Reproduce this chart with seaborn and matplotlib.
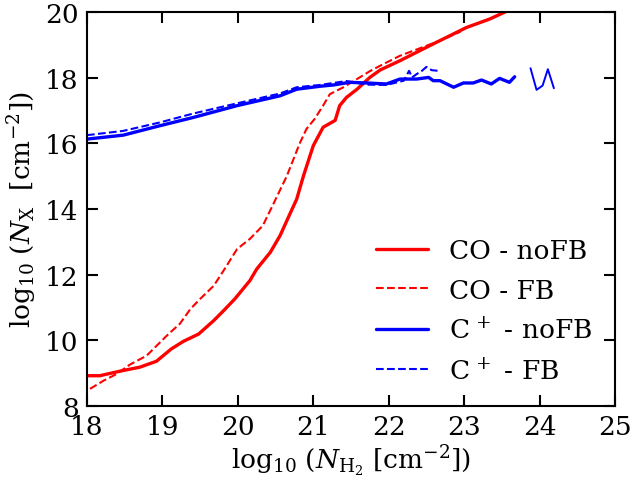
import numpy as np
import pandas as pd
import matplotlib
matplotlib.use("Agg")
import matplotlib.pyplot as plt
import seaborn as sns

# CO, no feedback
co_nofb_x = [18.0, 18.17, 18.44, 18.70, 18.92, 19.12, 19.28, 19.48, 19.68, 19.81, 19.96,
             20.16, 20.25, 20.43, 20.56, 20.69, 20.78, 20.87, 21.00, 21.13, 21.29, 21.35,
             21.44, 21.58, 21.75, 21.89, 22.15, 22.59, 23.03, 23.34, 23.54, 23.70]
co_nofb_y = [8.92, 8.92, 9.06, 9.18, 9.36, 9.74, 9.97, 10.19, 10.60, 10.90, 11.26,
             11.82, 12.17, 12.68, 13.19, 13.85, 14.30, 15.01, 15.93, 16.49, 16.70, 17.15,
             17.40, 17.65, 18.01, 18.24, 18.52, 19.03, 19.53, 19.79, 20.0, 20.2]

# CO, feedback
co_fb_x = [18.04, 18.22, 18.39, 18.57, 18.79, 18.97, 19.08, 19.23, 19.37, 19.50, 19.68,
           19.81, 19.99, 20.16, 20.33, 20.47, 20.65, 20.82, 20.91, 21.02, 21.13, 21.22,
           21.40, 21.58, 21.75, 21.89, 22.15, 22.68, 22.95]
co_fb_y = [8.52, 8.77, 8.97, 9.26, 9.53, 9.94, 10.19, 10.50, 10.95, 11.26, 11.66,
           12.12, 12.78, 13.09, 13.49, 14.15, 15.01, 16.0, 16.44, 16.75, 17.15, 17.50,
           17.71, 17.96, 18.20, 18.37, 18.67, 19.13, 19.40]

# C+, no feedback (two pieces, gap between them)
cp_nofb_x = [18.0, 18.48, 18.97, 19.41, 19.99, 20.56, 20.78, 21.09, 21.27, 21.48, 21.71,
             21.97, 22.15, 22.37, 22.53, 22.59, 22.68, 22.86, 22.99, 23.12, 23.23, 23.36,
             23.47, 23.60, 23.67]
cp_nofb_y = [16.13, 16.25, 16.54, 16.79, 17.15, 17.45, 17.65, 17.74, 17.78, 17.86, 17.84,
             17.81, 17.96, 17.96, 18.01, 17.91, 17.91, 17.71, 17.84, 17.84, 17.93, 17.81,
             17.98, 17.86, 18.03]
cp_nofb_x2 = [23.88, 23.96, 24.04, 24.11, 24.19]
cp_nofb_y2 = [18.29, 17.63, 17.76, 18.26, 17.68]

# C+, feedback
cp_fb_x = [18.0, 18.48, 18.97, 19.41, 19.99, 20.56, 20.78, 21.09, 21.44, 21.71, 21.97,
           22.20, 22.27, 22.31, 22.37, 22.44, 22.50, 22.57, 22.66]
cp_fb_y = [16.25, 16.38, 16.64, 16.91, 17.22, 17.52, 17.71, 17.78, 17.90, 17.79, 17.78,
           17.91, 18.21, 18.01, 18.11, 18.21, 18.33, 18.23, 18.21]

sns.set_theme(style="ticks")
plt.rcParams["font.family"] = ["DejaVu Serif"]
plt.rcParams["mathtext.fontset"] = "dejavuserif"
plt.rcParams["axes.linewidth"] = 1.5
for key in ["text.color", "axes.labelcolor", "xtick.color", "ytick.color", "axes.edgecolor"]:
    plt.rcParams[key] = "black"

fig = plt.figure(figsize=(6.35, 4.85), dpi=100)
ax = fig.add_axes([0.137, 0.161, 0.8315, 0.812])

kw = dict(ax=ax, estimator=None, sort=False)
sns.lineplot(x=co_nofb_x, y=co_nofb_y, color="red", lw=1.4, label="CO - noFB", **kw)
sns.lineplot(x=co_fb_x, y=co_fb_y, color="red", lw=1.3, ls="--", label="CO - FB", **kw)
sns.lineplot(x=cp_nofb_x, y=cp_nofb_y, color="blue", lw=1.4, label=r"C$^{\,+}$ - noFB", **kw)
sns.lineplot(x=cp_nofb_x2, y=cp_nofb_y2, color="blue", lw=1.4, **kw)
sns.lineplot(x=cp_fb_x, y=cp_fb_y, color="blue", lw=1.3, ls="--", label=r"C$^{\,+}$ - FB", **kw)

ax.set_xlim(18, 25)
ax.set_ylim(8, 20)
ax.set_xticks(np.arange(18, 26, 1))
ax.set_yticks(np.arange(8, 21, 2))
ax.tick_params(direction="in", length=8, width=1.5, top=True, right=True,
               labelsize=19, pad=6)
ax.set_xlabel(r"$\log_{10}\,(N_{\rm H_2}\ [{\rm cm^{-2}}])$", fontsize=19, labelpad=2)
ax.set_ylabel(r"$\log_{10}\,(N_{\rm X}\ \ [{\rm cm^{-2}}])$", fontsize=19, labelpad=4)

handles, labels = ax.get_legend_handles_labels()
for h in handles:
    h.set_linewidth(2.4 if h.get_linestyle() == "-" else 1.5)
ax.legend(handles, labels, loc="lower right", frameon=False, fontsize=19,
          handlelength=2.0, handletextpad=0.8, borderaxespad=0.45, labelspacing=0.55)

fig.savefig("out.png", dpi=100)
